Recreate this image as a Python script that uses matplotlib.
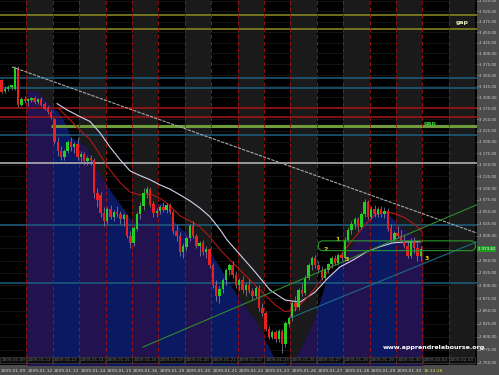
import numpy as np
import matplotlib
matplotlib.use("Agg")
import matplotlib.pyplot as plt
from matplotlib.patches import Rectangle, FancyBboxPatch
from matplotlib.ticker import FixedLocator, FuncFormatter, NullLocator

# ---- data ----
days = ["2009-01-09", "2009-01-12", "2009-01-13", "2009-01-14", "2009-01-15",
        "2009-01-16", "2009-01-19", "2009-01-20", "2009-01-21", "2009-01-22",
        "2009-01-23", "2009-01-26", "2009-01-27", "2009-01-28", "2009-01-29",
        "2009-01-30", "2009-02-02", "2009-02-03"]
BARS_PER_DAY = 8

opens = [3339, 3314, 3318, 3322, 3318, 3366, 3283, 3296,
         3290, 3294, 3298, 3288, 3296, 3283, 3274, 3266,
         3250, 3200, 3180, 3168, 3180, 3200, 3188, 3195,
         3168, 3172, 3158, 3165, 3160, 3090, 3085, 3048,
         3030, 3055, 3040, 3050, 3045, 3035, 3042, 3000,
         2985, 3015, 3045, 3062, 3090, 3098, 3065, 3048,
         3052, 3060, 3055, 3064, 3050, 3010, 3000, 2968,
         2978, 2995, 3020, 3000, 2980, 2985, 2968, 2972,
         2940, 2900, 2880, 2892, 2910, 2930, 2940, 2920,
         2900, 2910, 2890, 2900, 2888, 2880, 2895, 2855,
         2845, 2815, 2800, 2808, 2795, 2810, 2785, 2825,
         2835, 2865, 2858, 2890, 2885, 2915, 2940, 2955,
         2940, 2930, 2915, 2930, 2942, 2955, 2945, 2960,
         2955, 2992, 3012, 3025, 3035, 3018, 3045, 3070,
         3040, 3055, 3045, 3055, 3045, 3052, 3015, 2992,
         3005, 3000, 2990, 2980, 2960, 2990, 2975, 2960]
highs = [3342, 3326, 3327, 3328, 3372, 3370, 3300, 3302,
         3298, 3300, 3302, 3298, 3299, 3288, 3280, 3270,
         3252, 3210, 3190, 3185, 3205, 3210, 3200, 3210,
         3180, 3178, 3170, 3172, 3165, 3100, 3092, 3060,
         3060, 3065, 3055, 3062, 3052, 3048, 3045, 3010,
         3020, 3050, 3070, 3100, 3105, 3102, 3072, 3058,
         3065, 3070, 3068, 3068, 3055, 3022, 3008, 2985,
         3000, 3025, 3030, 3005, 2990, 2992, 2980, 2975,
         2945, 2910, 2898, 2915, 2935, 2945, 2950, 2928,
         2915, 2918, 2905, 2912, 2895, 2898, 2900, 2865,
         2850, 2820, 2812, 2812, 2815, 2815, 2830, 2840,
         2870, 2880, 2895, 2905, 2920, 2945, 2960, 2962,
         2950, 2938, 2935, 2945, 2960, 2962, 2965, 2965,
         2998, 3018, 3030, 3040, 3040, 3050, 3078, 3075,
         3062, 3065, 3060, 3062, 3060, 3058, 3025, 3010,
         3020, 3012, 3005, 2990, 2995, 2998, 2985, 2980]
lows = [3308, 3310, 3314, 3316, 3315, 3278, 3280, 3286,
        3280, 3288, 3285, 3284, 3280, 3270, 3262, 3250,
        3195, 3170, 3160, 3160, 3175, 3180, 3175, 3160,
        3155, 3150, 3150, 3150, 3080, 3060, 3040, 3020,
        3025, 3035, 3030, 3040, 3025, 3020, 2995, 2975,
        2980, 3010, 3035, 3055, 3080, 3060, 3040, 3040,
        3045, 3050, 3048, 3045, 3005, 2990, 2960, 2955,
        2970, 2990, 2995, 2975, 2960, 2962, 2955, 2935,
        2895, 2870, 2866, 2885, 2900, 2920, 2915, 2895,
        2890, 2885, 2880, 2885, 2872, 2875, 2850, 2840,
        2810, 2795, 2795, 2790, 2790, 2768, 2780, 2818,
        2830, 2850, 2852, 2880, 2882, 2910, 2930, 2935,
        2925, 2910, 2910, 2925, 2935, 2940, 2940, 2950,
        2950, 2988, 3005, 3015, 3010, 3015, 3040, 3035,
        3035, 3040, 3040, 3040, 3038, 3010, 2985, 2985,
        2995, 2985, 2975, 2955, 2955, 2965, 2950, 2950]
closes = [3312, 3318, 3322, 3326, 3366, 3283, 3296, 3290,
          3294, 3298, 3288, 3296, 3283, 3274, 3266, 3255,
          3200, 3180, 3168, 3180, 3200, 3188, 3195, 3168,
          3172, 3158, 3165, 3160, 3090, 3075, 3048, 3030,
          3055, 3040, 3050, 3045, 3035, 3042, 3000, 2985,
          3015, 3045, 3062, 3090, 3098, 3065, 3048, 3052,
          3060, 3055, 3064, 3050, 3010, 3000, 2968, 2978,
          2995, 3020, 3000, 2980, 2985, 2968, 2972, 2940,
          2900, 2880, 2892, 2910, 2930, 2940, 2920, 2900,
          2910, 2890, 2900, 2888, 2880, 2895, 2855, 2845,
          2815, 2800, 2808, 2795, 2810, 2785, 2825, 2835,
          2865, 2858, 2890, 2885, 2915, 2940, 2955, 2940,
          2930, 2915, 2930, 2942, 2955, 2945, 2960, 2955,
          2992, 3012, 3025, 3035, 3018, 3045, 3070, 3040,
          3055, 3045, 3055, 3045, 3052, 3015, 2992, 3005,
          3000, 2990, 2980, 2960, 2990, 2975, 2960, 2973.82]
last_price = 2973.82

# blue area (smoothed envelope) — x in bar units
area_x = [7.7, 10.4, 13.1, 15.6, 17.1, 18.6, 19.8, 20.7, 23.7, 25.9, 28.3, 30.7,
          33.4, 36.5, 39.5, 42.8, 45.9, 48.6, 50.1, 51.9, 54.7, 57.1, 59.2, 61.0,
          63.1, 65.3, 67.1, 72.2, 76.8, 79.8, 82.8, 87.4, 90.4, 93.4, 96.5, 98.6,
          102.5, 105.6, 107.7, 109.5, 110.7, 112.5, 116.8, 118.3, 120.7, 123.7,
          126.2, 127.7]
area_y = [3314, 3314, 3294, 3275, 3267, 3249, 3234, 3211, 3200, 3187, 3143, 3118,
          3090, 3061, 3029, 3050, 3065, 3069, 3061, 3033, 3013, 3002, 2992, 2978,
          2966, 2945, 2925, 2871, 2832, 2794, 2756, 2745, 2775, 2813, 2871, 2915,
          2941, 2972, 2998, 3029, 3040, 3048, 3048, 3038, 3019, 3006, 2988, 2972]

# moving averages
ma_white_x = [16.8, 19.8, 23.7, 26.8, 29.8, 32.8, 35.9, 38.9, 41.9, 45.0, 48.0, 51.0,
              54.0, 57.1, 60.1, 63.1, 66.2, 68.3, 72.2, 76.8, 81.3, 85.9, 90.4, 95.0,
              98.9, 102.5, 106.5, 110.7, 114.6, 118.6, 122.8, 126.8]
ma_white_y = [3285, 3271, 3256, 3245, 3220, 3189, 3161, 3137, 3127, 3118, 3107, 3098,
              3086, 3073, 3058, 3040, 3013, 2992, 2962, 2927, 2891, 2871, 2867, 2887,
              2915, 2937, 2951, 2968, 2978, 2986, 2988, 2988]
ma_red_x = [17.1, 20.7, 23.7, 26.8, 29.8, 32.8, 35.9, 38.9, 41.9, 45.0, 48.0, 51.0,
            54.0, 57.1, 60.1, 63.1, 66.2, 69.2, 73.7, 78.3, 82.8, 85.9, 88.9, 91.9,
            95.0, 98.0, 101.0, 104.0, 107.1, 110.1, 113.1, 116.2, 119.2, 122.2, 125.3, 127.4]
ma_red_y = [3275, 3249, 3226, 3205, 3172, 3139, 3112, 3092, 3086, 3088, 3079, 3063,
            3042, 3031, 3019, 2998, 2972, 2951, 2921, 2891, 2862, 2848, 2852, 2871,
            2895, 2921, 2947, 2972, 2998, 3023, 3044, 3050, 3046, 3038, 3023, 3009]

# drawn lines
levels = [3490, 3458, 3344, 3321, 3275, 3255, 3216, 3154, 3023, 2905]
level_colors = ["#8c8c22", "#8c8c22", "#1d5f80", "#1d5f80", "#a81414", "#a81414",
                "#1d5f80", "#bdbdbd", "#1d5f80", "#1d5f80"]
gap_level = 3235
gap_start = 15.0
down_trend = ([3.1, 144.0], [3369, 3006])
up_trend_green = ([42.8, 144.0], [2780, 3065])
up_trend_blue = ([87.4, 144.0], [2836, 2988])
box_x = (95.9, 143.6)
box_y = (2970, 2990)
marks = [("1", 101.9, 2992), ("2", 98.3, 2972), ("3", 104.7, 2953), ("3", 128.9, 2955)]

ticks = list(range(2750, 3526, 25))

# ---- drawing ----
BG, SHADE, NAVY, PURPLE = "#000000", "#1a1a1a", "#0b1862", "#221250"
fig = plt.figure(figsize=(4.99, 3.75), dpi=100, facecolor="#4c4c4c")
ax = fig.add_axes([0, 10 / 375, 477 / 499, 365 / 375], facecolor=BG)
ax.set_yscale("log")
xmax = 477 / 3.3 - 0.5
ax.set_xlim(-0.5, xmax)
ax.set_ylim(2746, 3527)

# day columns
n_days = len(days)
for d in range(n_days):
    x0 = d * BARS_PER_DAY - 0.5
    if d % 2 == 1:
        ax.axvspan(x0, x0 + BARS_PER_DAY, color=SHADE, lw=0, zorder=0)
    if d > 0:
        ax.axvline(x0, color="#9a0f0f", lw=0.7, ls=(0, (4, 3)), zorder=2.2)

for t in ticks:
    ax.axhline(t, color="#1e1e1e", lw=0.5, zorder=0.5)

# blue area, purple inside shaded columns
ax.fill_between(area_x, area_y, 2700, color=NAVY, lw=0, zorder=1)
for d in range(1, n_days, 2):
    x0 = d * BARS_PER_DAY - 0.5
    pc = ax.fill_between(area_x, area_y, 2700, color=PURPLE, lw=0, zorder=1.1)
    clip = Rectangle((x0, 0), BARS_PER_DAY, 1, transform=ax.get_xaxis_transform())
    pc.set_clip_path(clip)

for lv, c in zip(levels, level_colors):
    ax.axhline(lv, color=c, lw=1.1, zorder=2)
ax.hlines(gap_level, gap_start, xmax, color="#6e9c3c", lw=2.2, zorder=2)

ax.plot(ma_white_x, ma_white_y, color="#d8d0e8", lw=0.8, zorder=3)
ax.plot(ma_red_x, ma_red_y, color="#b01818", lw=0.8, zorder=3)

# candles
x = np.arange(len(closes))
o, h, l, c = map(np.asarray, (opens, highs, lows, closes))
up = c >= o
ax.vlines(x, l, h, color="#8c8ca8", lw=0.5, zorder=4)
ax.bar(x, np.abs(c - o) + 0.5, bottom=np.minimum(o, c), width=0.7,
       color=np.where(up, "#22d022", "#e82020"), lw=0, zorder=4.1)

ax.plot(*down_trend, color="#a8a8a8", lw=0.8, ls=(0, (3, 1)), zorder=5)
ax.plot(*up_trend_green, color="#2f8a2f", lw=0.8, zorder=5)
ax.plot(*up_trend_blue, color="#1d6a8a", lw=0.8, zorder=5)

# rounded green box (drawn in pixel space from data corners)
fig.canvas.draw()
(px0, py0), (px1, py1) = ax.transData.transform([(box_x[0], box_y[0]), (box_x[1], box_y[1])])
box = FancyBboxPatch((px0, py0), px1 - px0, py1 - py0, boxstyle="round,pad=0,rounding_size=5",
                     transform=None, fill=False, ec="#2c9a2c", lw=0.8, zorder=5)
fig.add_artist(box)

for s, bx, by in marks:
    ax.text(bx, by, s, color="#e8d400", fontsize=4.5, fontweight="bold",
            ha="center", va="center", zorder=6)

ax.text(137.5, 3474, "gap", color="#e8e8b8", fontsize=4.5, fontweight="bold",
        ha="left", va="center", zorder=6)
ax.text(128.0, 3240, "gap", color="#38c838", fontsize=4.5, fontweight="bold",
        ha="left", va="center", zorder=6)
ax.text(0.803, 0.049, "www.apprendrelabourse.org", transform=ax.transAxes,
        color="white", fontsize=4.6, fontweight="bold", ha="left", va="center", zorder=6)

# y axis on the right
ax.yaxis.tick_right()
ax.yaxis.set_major_locator(FixedLocator(ticks))
ax.yaxis.set_minor_locator(NullLocator())
ax.yaxis.set_major_formatter(FuncFormatter(
    lambda v, p: "" if v == 2975 else f"{int(v) // 1000} {int(v) % 1000:03d}.00"))
ax.tick_params(axis="y", labelsize=2.8, colors="#d2d2d2", length=1.0, pad=0.6, width=0.4)
ax.set_xticks([])
for sp in ax.spines.values():
    sp.set_visible(False)
ax.text(1.002, last_price, "2 973.82", transform=ax.get_yaxis_transform(),
        fontsize=2.8, color="white", ha="left", va="center", zorder=7, clip_on=False,
        bbox=dict(boxstyle="square,pad=0.2", fc="#1e9a1e", ec="none"))

# date boxes inside the plot and date row below
for d, name in enumerate(days):
    x0 = d * BARS_PER_DAY - 0.5
    if x0 + 2 > xmax:
        break
    ax.text(x0 + 0.4, 0.008, name, fontsize=3.0, color="#707070", ha="left", va="bottom",
            transform=ax.get_xaxis_transform(), zorder=7,
            bbox=dict(boxstyle="square,pad=0.2", fc="#0c0c0c", ec="#4a4a4a", lw=0.4))
    fx = ax.transData.transform((x0, 3000))[0] / fig.bbox.width
    if d < 16:
        fig.text(fx + 0.002, 0.004, name, fontsize=3.2, color="#dcdcdc", ha="left", va="bottom")
    elif d == 16:
        fig.text(fx + 0.002, 0.004, "16:12:16", fontsize=3.2, color="#e6e64a", ha="left", va="bottom")

fig.savefig("out.png", dpi=100, facecolor=fig.get_facecolor())
